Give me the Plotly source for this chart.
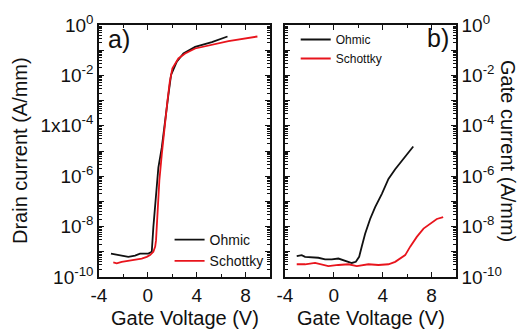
import plotly.graph_objects as go

# Panel a: drain current vs gate voltage
drain_ohmic_v = [-3.02, -2.42, -1.6, -1.05, -0.64, 0.04, 0.32, 0.45, 0.59, 0.73, 0.86,
                 1.14, 1.38, 1.68, 1.9, 2.37, 2.91, 3.87, 5.24, 6.52]
drain_ohmic_i = [8.5e-10, 7.4e-10, 6.3e-10, 7.1e-10, 8.5e-10, 8.5e-10, 1.0e-9, 9.5e-9,
                 5.9e-8, 4.9e-7, 2.2e-6, 1.35e-5, 1.5e-4, 1.7e-3, 1.05e-2, 3.5e-2,
                 7.4e-2, 0.135, 0.21, 0.35]
drain_schottky_v = [-2.83, -2.55, -2.14, -1.6, -1.05, -0.5, -0.09, 0.18, 0.45, 0.6, 0.67,
                    0.78, 0.94, 1.14, 1.35, 1.6, 1.8, 2.01, 2.5, 3.05, 3.87, 5.24,
                    6.6, 8.97]
drain_schottky_i = [3.8e-10, 3.5e-10, 4.0e-10, 4.4e-10, 4.7e-10, 5.4e-10, 6.3e-10, 7.4e-10,
                    1.0e-9, 1.6e-9, 2.9e-9, 4.4e-8, 6.6e-7, 7.4e-6, 8.3e-5, 9.3e-4,
                    5.8e-3, 1.9e-2, 4.7e-2, 7.4e-2, 0.117, 0.17, 0.23, 0.35]

# Panel b: gate current vs gate voltage
gate_ohmic_v = [-3.04, -2.63, -2.36, -1.81, -1.27, -0.72, -0.17, 0.37, 0.92, 1.47, 1.8,
                2.07, 2.28, 2.56, 2.97, 3.38, 3.93, 4.47, 5.02, 5.57, 5.98, 6.5]
gate_ohmic_i = [6.8e-10, 7.4e-10, 6.3e-10, 6.0e-10, 5.8e-10, 5.0e-10, 5.0e-10, 5.4e-10,
                4.4e-10, 3.6e-10, 4.0e-10, 6.3e-10, 1.6e-9, 5.2e-9, 2.0e-8, 5.9e-8,
                2.0e-7, 7.8e-7, 1.9e-6, 4.1e-6, 7.4e-6, 1.5e-5]
gate_schottky_v = [-3.04, -2.36, -1.54, -1.0, -0.45, 0.37, 1.19, 1.88, 2.83, 3.65, 4.47,
                   5.02, 5.43, 5.84, 6.25, 6.79, 7.34, 7.89, 8.43, 8.95]
gate_schottky_i = [3.2e-10, 3.2e-10, 3.6e-10, 3.2e-10, 2.7e-10, 3.0e-10, 3.2e-10, 2.7e-10,
                   3.2e-10, 3.0e-10, 3.2e-10, 4.0e-10, 5.4e-10, 7.4e-10, 1.6e-9, 3.9e-9,
                   8.3e-9, 1.3e-8, 2.0e-8, 2.4e-8]

x_ticks = [-4, 0, 4, 8]
x_tick_text = ["-4", "0", "4", "8"]
x_minor = [-2, 2, 6, 10]
y_decades = list(range(-10, 1))
left_labels = {0: "10<sup>0</sup>", -2: "10<sup>-2</sup>", -4: "1x10<sup>-4</sup>",
               -6: "10<sup>-6</sup>", -8: "10<sup>-8</sup>", -10: "10<sup>-10</sup>"}
right_labels = {0: "10<sup>0</sup>", -2: "10<sup>-2</sup>", -4: "10<sup>-4</sup>",
                -6: "10<sup>-6</sup>", -8: "10<sup>-8</sup>", -10: "10<sup>-10</sup>"}
y_minor = [m * 10.0 ** d for d in range(-10, 0) for m in range(2, 10)]

FONT = "Liberation Sans, Arial, sans-serif"
BLACK = "#111111"
RED = "#e8141c"

fig = go.Figure()
fig.add_trace(go.Scatter(x=drain_ohmic_v, y=drain_ohmic_i, mode="lines", name="Ohmic",
                         line=dict(color=BLACK, width=1.8), xaxis="x", yaxis="y",
                         legend="legend"))
fig.add_trace(go.Scatter(x=drain_schottky_v, y=drain_schottky_i, mode="lines", name="Schottky",
                         line=dict(color=RED, width=1.8), xaxis="x", yaxis="y",
                         legend="legend"))
fig.add_trace(go.Scatter(x=gate_ohmic_v, y=gate_ohmic_i, mode="lines", name="Ohmic",
                         line=dict(color=BLACK, width=1.8), xaxis="x2", yaxis="y2",
                         legend="legend2"))
fig.add_trace(go.Scatter(x=gate_schottky_v, y=gate_schottky_i, mode="lines", name="Schottky",
                         line=dict(color=RED, width=1.8), xaxis="x2", yaxis="y2",
                         legend="legend2"))

W, H = 526, 333
ML, MR, MT, MB = 99, 70, 23, 56
pw = W - ML - MR
ph = H - MT - MB

def xax(domain, anchor):
    return dict(domain=domain, anchor=anchor, range=[-4, 10], tickmode="array",
                tickvals=x_ticks, ticktext=x_tick_text, ticks="inside", ticklen=5,
                tickwidth=1.2, tickcolor=BLACK, showline=True, linecolor=BLACK,
                linewidth=1.5, mirror="ticks", showgrid=False, zeroline=False,
                tickfont=dict(family=FONT, size=19, color=BLACK),
                minor=dict(tickmode="array", tickvals=x_minor, ticks="inside", ticklen=3,
                           tickwidth=1, tickcolor=BLACK, showgrid=False))

def yax(anchor, side, labels):
    return dict(type="log", anchor=anchor, side=side, range=[-10, 0], tickmode="array",
                tickvals=[10.0 ** d for d in y_decades],
                ticktext=[labels.get(d, "") for d in y_decades],
                ticks="inside", ticklen=5, tickwidth=1.2, tickcolor=BLACK,
                showline=True, linecolor=BLACK, linewidth=1.5, mirror="ticks",
                showgrid=False, zeroline=False,
                tickfont=dict(family=FONT, size=19, color=BLACK),
                minor=dict(tickmode="array", tickvals=y_minor, ticks="inside", ticklen=3,
                           tickwidth=0.8, tickcolor=BLACK, showgrid=False))

fig.update_layout(
    width=W, height=H,
    margin=dict(l=ML, r=MR, t=MT, b=MB),
    paper_bgcolor="white", plot_bgcolor="white",
    font=dict(family=FONT, color=BLACK),
    xaxis=xax([0, 171 / pw], "y"),
    yaxis=yax("x", "left", left_labels),
    xaxis2=xax([186 / pw, 1], "y2"),
    yaxis2=yax("x2", "right", right_labels),
    legend=dict(x=0.475, y=0.0, xanchor="right", yanchor="bottom",
                bgcolor="rgba(0,0,0,0)", font=dict(family=FONT, size=14, color=BLACK),
                tracegroupgap=0, itemwidth=30),
    legend2=dict(x=0.551, y=1.0, xanchor="left", yanchor="top",
                 bgcolor="rgba(0,0,0,0)", font=dict(family=FONT, size=12, color=BLACK),
                 tracegroupgap=0, itemwidth=30),
    showlegend=True,
)

annotations = [
    dict(text="a)", x=0.02, y=0.945, xref="paper", yref="paper", xanchor="left",
         yanchor="middle", showarrow=False, font=dict(family=FONT, size=25, color=BLACK)),
    dict(text="b)", x=0.985, y=0.95, xref="paper", yref="paper", xanchor="right",
         yanchor="middle", showarrow=False, font=dict(family=FONT, size=25, color=BLACK)),
    dict(text="Drain current (A/mm)", x=-(ML - 20) / pw, y=0.5, xref="paper", yref="paper",
         textangle=-90, showarrow=False, xanchor="center", yanchor="middle",
         font=dict(family=FONT, size=20, color=BLACK)),
    dict(text="Gate current (A/mm)", x=1 + (508 - (W - MR)) / pw, y=0.5, xref="paper",
         yref="paper", textangle=90, showarrow=False, xanchor="center", yanchor="middle",
         font=dict(family=FONT, size=20, color=BLACK)),
    dict(text="Gate Voltage (V)", x=(184.5 - ML) / pw, y=-(318 - (H - MB)) / ph,
         xref="paper", yref="paper", showarrow=False, xanchor="center", yanchor="middle",
         font=dict(family=FONT, size=20, color=BLACK)),
    dict(text="Gate Voltage (V)", x=(370.5 - ML) / pw, y=-(318 - (H - MB)) / ph,
         xref="paper", yref="paper", showarrow=False, xanchor="center", yanchor="middle",
         font=dict(family=FONT, size=20, color=BLACK)),
]
fig.update_layout(annotations=annotations)

fig.write_html("out.html")
